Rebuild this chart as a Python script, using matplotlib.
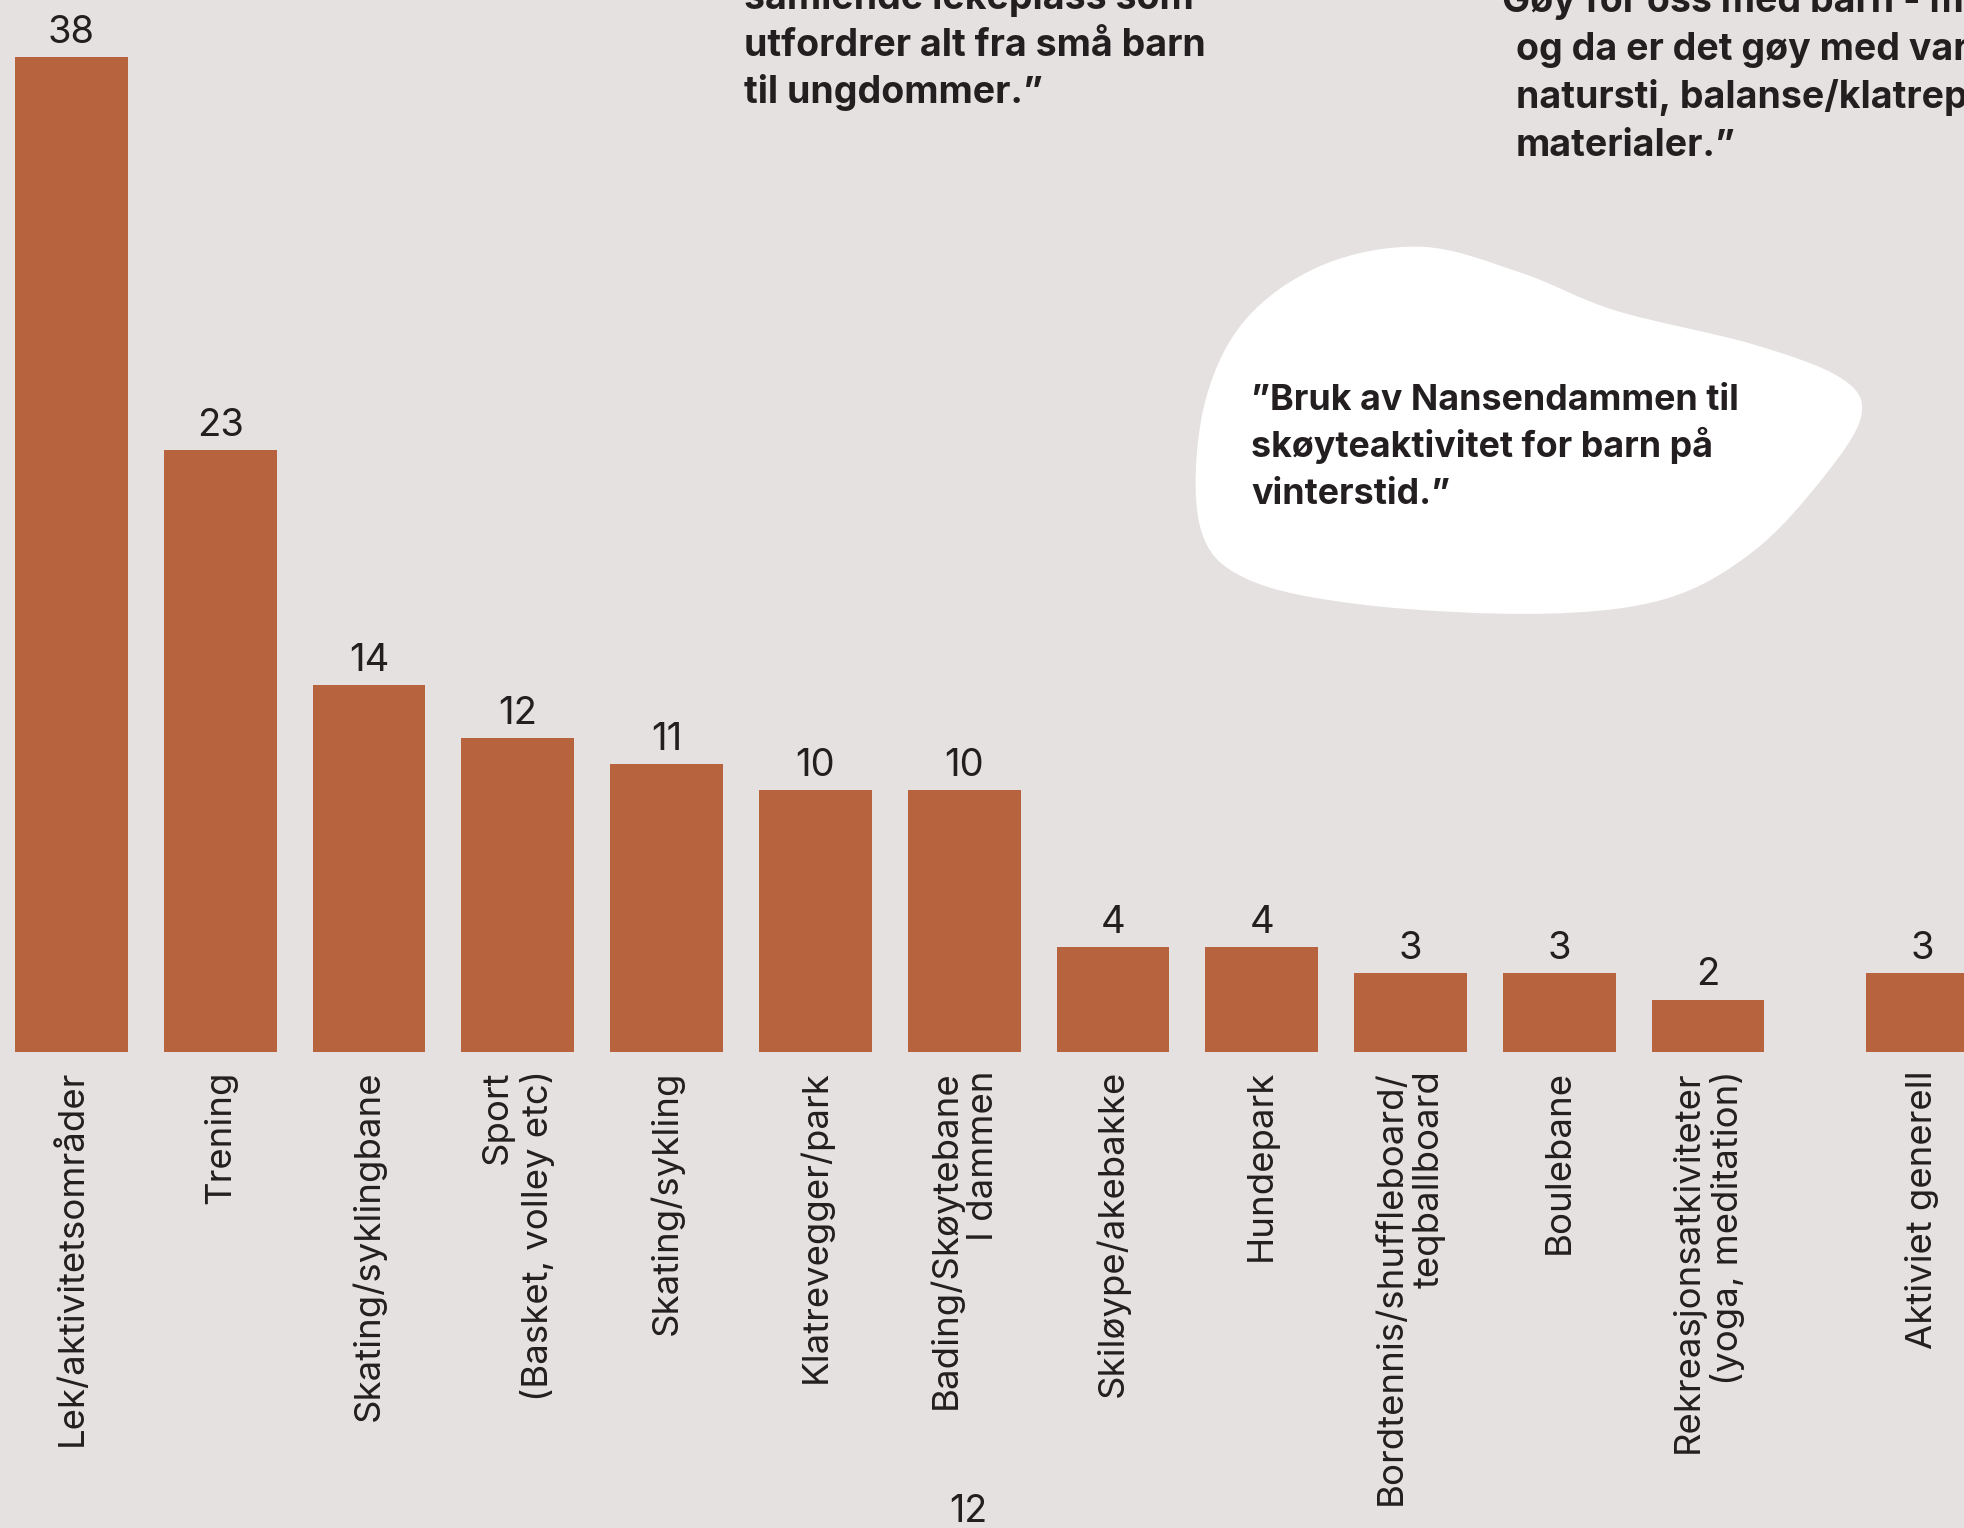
import numpy as np
import matplotlib
matplotlib.use("Agg")
import matplotlib.pyplot as plt
from matplotlib.path import Path
from matplotlib.patches import PathPatch
import matplotlib.transforms as mtransforms

# data
categories = [
    "Lek/aktivitetsområder",
    "Trening",
    "Skating/syklingbane",
    "Sport\n(Basket, volley etc)",
    "Skating/sykling",
    "Klatrevegger/park",
    "Bading/Skøytebane\nI dammen",
    "Skiløype/akebakke",
    "Hundepark",
    "Bordtennis/shuffleboard/\nteqballboard",
    "Boulebane",
    "Rekreasjonsatkiviteter\n(yoga, meditation)",
    "Aktiviet generell",
]
values = [38, 23, 14, 12, 11, 10, 10, 4, 4, 3, 3, 2, 3]

quote_left = ["samlende lekeplass som", "utfordrer alt fra små barn", "til ungdommer.”"]
quote_right = ["”Gøy for oss med barn - men", "og da er det gøy med varierte",
               "natursti, balanse/klatreparker", "materialer.”"]
quote_blob = ["”Bruk av Nansendammen til", "skøyteaktivitet for barn på", "vinterstid.”"]
page_number = "12"

# style
BG = "#E5E1E0"
BAR = "#B7643E"
INK = "#231F20"
W, H = 1964, 1528
FONT = ["Inter", "DejaVu Sans"]
plt.rcParams["font.family"] = FONT

# the last bar stands a bit apart from the others
gap = 0.44
positions = np.r_[np.arange(len(values) - 1), len(values) - 1 + gap]

fig = plt.figure(figsize=(W / 100, H / 100), dpi=100, facecolor=BG)
ax = fig.add_axes([0, 0.3115, 1, 0.6885])
ax.set_facecolor(BG)

bars = ax.bar(positions, values, width=0.758, color=BAR)
ax.bar_label(bars, padding=4.5, fontsize=27.5, color=INK)

ax.set_xlim(-0.48, 12.72)
ax.set_ylim(0, 40.18)
ax.set_yticks([])
for s in ax.spines.values():
    s.set_visible(False)
ax.set_xticks(positions, labels=categories, rotation=90, fontsize=26.3, color=INK)
ax.tick_params(axis="x", length=0, pad=13)
for lab in ax.get_xticklabels():
    lab.set_multialignment("right")

# pixel coordinates (top-left origin) -> figure
pix = mtransforms.Affine2D().scale(1 / W, -1 / H).translate(0, 1) + fig.transFigure


def catmull_rom_path(pts):
    pts = np.asarray(pts, float)
    n = len(pts)
    verts = [pts[0]]
    codes = [Path.MOVETO]
    for i in range(n):
        p0, p1, p2, p3 = pts[i - 1], pts[i], pts[(i + 1) % n], pts[(i + 2) % n]
        c1 = p1 + (p2 - p0) / 6
        c2 = p2 - (p3 - p1) / 6
        verts += [c1, c2, p2]
        codes += [Path.CURVE4] * 3
    return Path(verts, codes)


blob_pts = np.array([
    (1135, 197), (1215, 218), (1290, 248), (1400, 275), (1470, 302),
    (1486, 332), (1455, 382), (1400, 440), (1330, 478), (1230, 490),
    (1090, 483), (995, 462), (958, 420), (960, 330), (992, 258), (1055, 212),
]) * (W / 1568)
blob = PathPatch(catmull_rom_path(blob_pts), facecolor="white", edgecolor="none",
                 transform=pix)
fig.patches.append(blob)

for i, line in enumerate(quote_left):
    fig.text(744, 9 + 47 * i, line, transform=pix, fontsize=27, fontweight="bold",
             color=INK, va="baseline", ha="left")
for i, line in enumerate(quote_right):
    x = 1482 if i == 0 else 1516
    fig.text(x, 12 + 48 * i, line, transform=pix, fontsize=27, fontweight="bold",
             color=INK, va="baseline", ha="left")
for i, line in enumerate(quote_blob):
    fig.text(1251, 410 + 47 * i, line, transform=pix, fontsize=25.8, fontweight="bold",
             color=INK, va="baseline", ha="left")

fig.text(968, 1522, page_number, transform=pix, fontsize=27, color=INK,
         va="baseline", ha="center")

fig.savefig("out.png", dpi=100, facecolor=BG)
